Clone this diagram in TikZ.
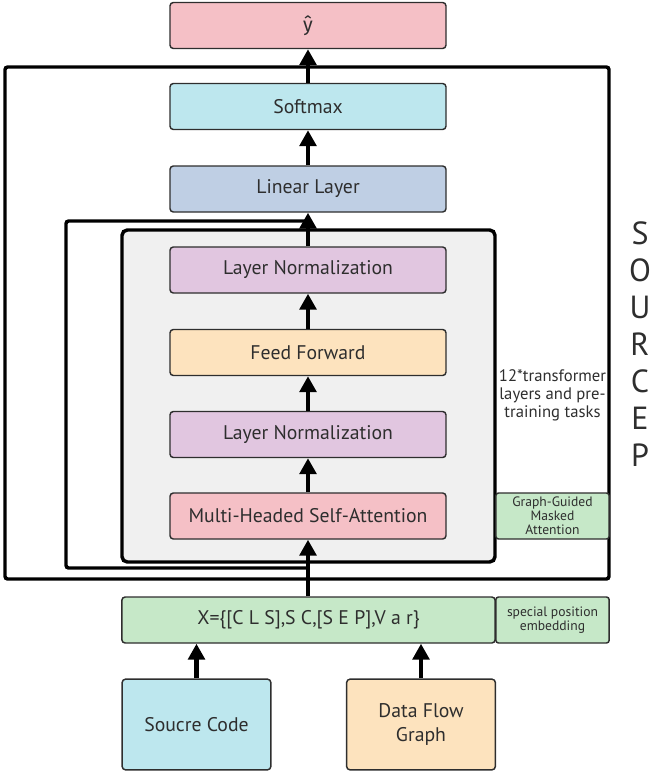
\documentclass[tikz,border=0pt]{standalone}
\usepackage{fontspec}
\setmainfont{PT Sans}
\newfontfamily\hatfont{Fira Sans}
\usetikzlibrary{arrows.meta}
\definecolor{pinkBox}{HTML}{F5C0C6}
\definecolor{cyanBox}{HTML}{BDE7EE}
\definecolor{blueBox}{HTML}{BFCFE4}
\definecolor{lilacBox}{HTML}{E1C6E0}
\definecolor{peachBox}{HTML}{FDE3BE}
\definecolor{greenBox}{HTML}{C6E8C8}
\definecolor{grayBox}{HTML}{F0F0F0}
\definecolor{inkGray}{HTML}{2E2E2E}
\begin{document}
\begin{tikzpicture}[x=0.75pt, y=-0.75pt,
    boxStyle/.style={rectangle, draw=inkGray, line width=1.1pt, rounded corners=2.5pt, minimum width=207pt, minimum height=34.5pt, text=inkGray, font=\fontsize{14.8}{18}\selectfont},
    sideStyle/.style={rectangle, draw=inkGray, fill=greenBox, line width=1.1pt, rounded corners=2pt, minimum width=85pt, minimum height=34.5pt, inner sep=0pt, align=center, text=inkGray, font=\fontsize{10.2}{10.6}\selectfont},
    inputStyle/.style={boxStyle, minimum width=111.5pt, minimum height=68pt, align=center},
    letterStyle/.style={text=inkGray, font=\fontsize{24}{28}\selectfont},
    frameStyle/.style={draw=black, line width=2.6pt, rounded corners=2pt},
    arr/.style={line width=3.6pt, -{Triangle[width=12.5pt, length=12pt]}}]
    \useasboundingbox (0,0) rectangle (652,775);

    % frames
    \draw[frameStyle] (5,67) rectangle (609,579);
    \draw[frameStyle] (308,221) -- (66,221) -- (66,568) -- (308,568);
    \draw[frameStyle, fill=grayBox, rounded corners=4pt] (122,230) rectangle (495,562);

    \node[boxStyle, fill=pinkBox]  (yhat)    at (308, 25.5)  {\hatfont ŷ};
    \node[boxStyle, fill=cyanBox]  (softmax) at (308, 106.5) {Softmax};
    \node[boxStyle, fill=blueBox]  (linear)  at (308, 189)   {Linear Layer};
    \node[boxStyle, fill=lilacBox] (norm1)   at (308, 270)   {Layer Normalization};
    \node[boxStyle, fill=peachBox] (ffn)     at (308, 352.5) {Feed Forward};
    \node[boxStyle, fill=lilacBox] (norm2)   at (308, 434.5) {Layer Normalization};
    \node[boxStyle, fill=pinkBox]  (mhsa)    at (308, 516)   {Multi-Headed Self-Attention};
    \node[boxStyle, fill=greenBox, minimum width=280pt] (embed) at (308.5, 620) {X=\{[C L S],S C,[S E P],V a r\}};

    \node[inputStyle, fill=cyanBox]  (code) at (196.5, 724.5) {Soucre Code};
    \node[inputStyle, fill=peachBox] (dfg)  at (421, 724.5)   {Data Flow\\Graph};

    \node[sideStyle] (masked) at (552.5, 516) {Graph-Guided\\Masked\\Attention};
    \node[sideStyle] (spe)    at (552.5, 620) {special position\\embedding};
    \node[align=center, text=inkGray, font=\fontsize{12.5}{13.6}\selectfont, inner sep=0pt] (layers) at (552.5, 395) {12*transformer\\layers and pre-\\training tasks};

    \foreach \l [count=\i from 0] in {S,O,U,R,C,E,P}
        \node[letterStyle] (src\i) at (640, {233+37*\i}) {\l};

    \draw[arr] (code.north) -- (code.north |- embed.south);
    \draw[arr] (dfg.north) -- (dfg.north |- embed.south);
    \draw[arr] (embed.north -| mhsa.south) -- (mhsa.south);
    \draw[arr] (mhsa.north) -- (norm2.south);
    \draw[arr] (norm2.north) -- (ffn.south);
    \draw[arr] (ffn.north) -- (norm1.south);
    \draw[arr] (norm1.north) -- (linear.south);
    \draw[arr] (linear.north) -- (softmax.south);
    \draw[arr] (softmax.north) -- (yhat.south);
\end{tikzpicture}
\end{document}
